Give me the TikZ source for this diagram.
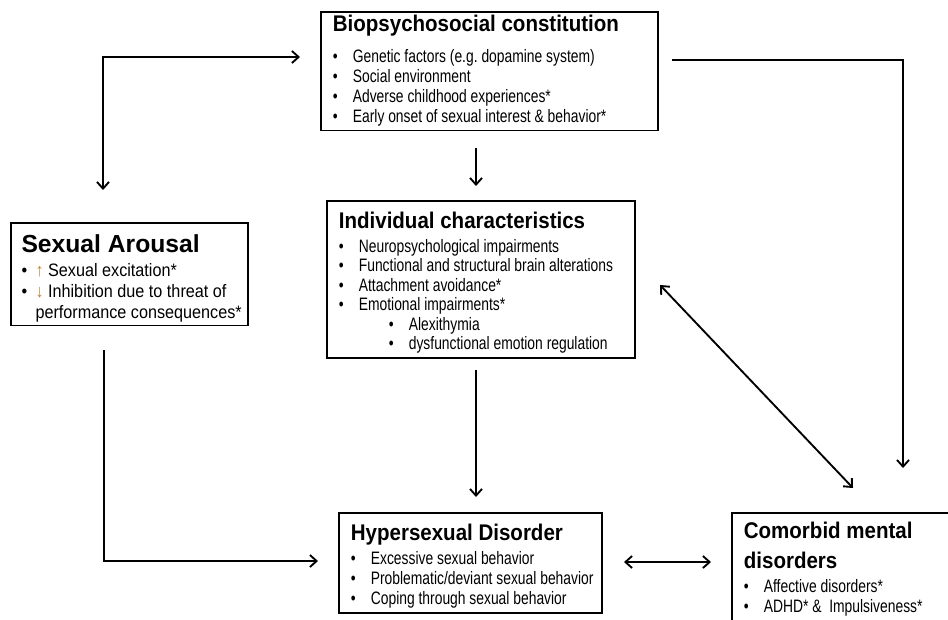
\documentclass[tikz,border=0pt]{standalone}
\usepackage{fontspec}
\usepackage{xcolor}
\usepackage{tikz}
\usetikzlibrary{calc,positioning,arrows.meta}
\newfontfamily\boxfont[FakeStretch=0.77]{Liberation Sans}
\newfontfamily\headfont[FakeStretch=0.905]{Liberation Sans}
\newfontfamily\widefont[FakeStretch=0.9]{Liberation Sans}
\newfontfamily\wideheadfont{Liberation Sans}
\definecolor{arrowtan}{RGB}{190,130,60}
\newcommand{\boxtitle}[1]{{\headfont\fontsize{17}{20}\selectfont\bfseries #1}}
\newcommand{\widetitle}[1]{{\wideheadfont\fontsize{18.5}{20}\selectfont\bfseries #1}}
\newcommand{\bul}[1][15pt]{\makebox[#1][l]{\textbullet}}
\newcommand{\toprow}[1]{\rule{0pt}{#1}}
\newcommand{\botrow}[1]{\rule[-#1]{0pt}{#1}}
\newcommand{\overhang}[1][9pt]{\rightskip=-#1 plus 1fil\spaceskip=0pt\xspaceskip=0pt\relax}
\hyphenpenalty=10000
\exhyphenpenalty=10000
\frenchspacing

\begin{document}
\begin{tikzpicture}[x=0.75pt,y=-0.75pt]
        \tikzset{>={Straight Barb[length=5pt,width=9pt]}}
        \tikzstyle{arr} = [line width=1.4pt]
        \tikzstyle{factor} = [draw, line width=1.3pt, anchor=north west, align=left, inner xsep=9pt, inner ysep=0pt, font={\boxfont\fontsize{13.5}{15}\selectfont}]
        \useasboundingbox (0,0) rectangle (948,619);
        \clip (0,0) rectangle (948,619);

        \node [factor, text width=234.75pt, name=bio] at (320,11) {\overhang\toprow{15pt}\boxtitle{Biopsychosocial constitution}\\[8pt]
            \bul Genetic factors (e.g. dopamine system)\\
            \bul Social environment\\
            \bul Adverse childhood experiences*\\
            \bul Early onset of sexual interest \& behavior*\botrow{6pt}};
        \node [factor, text width=213pt, name=indiv, font={\boxfont\fontsize{13.5}{14.6}\selectfont}] at (326,200) {\overhang\toprow{21pt}\boxtitle{Individual characteristics}\\[3pt]
            \bul Neuropsychological impairments\\
            \bul Functional and structural brain alterations\\
            \bul Attachment avoidance*\\
            \bul Emotional impairments*\\
            \hspace*{37.5pt}\bul Alexithymia\\
            \hspace*{37.5pt}\bul dysfunctional emotion regulation\botrow{6.5pt}};
        \node [factor, text width=161.75pt, name=arousal, inner xsep=8pt, font={\widefont\fontsize{13.5}{15.5}\selectfont}] at (10,222) {\overhang\toprow{22pt}\widetitle{Sexual Arousal}\\[3pt]
            \bul[10.5pt]{\color{arrowtan}↑} Sexual excitation*\\
            \bul[10.5pt]{\color{arrowtan}↓} \mbox{Inhibition due to threat of}\\
            \hspace*{10.5pt}\mbox{performance consequences*}\botrow{5.5pt}};
        \node [factor, text width=179.25pt, name=hyper] at (338,512) {\overhang\toprow{20.5pt}\boxtitle{Hypersexual Disorder}\\[3.5pt]
            \bul Excessive sexual behavior\\
            \bul Problematic/deviant sexual behavior\\
            \bul Coping through sexual behavior\botrow{6pt}};
        \node [factor, text width=177pt, name=comorb] at (731,512) {\overhang\toprow{19.5pt}\boxtitle{Comorbid mental}\\[7pt]
            \boxtitle{disorders}\\[3pt]
            \bul Affective disorders*\\
            \bul ADHD* \&\ \ Impulsiveness*\botrow{20pt}};

        % arrow ends
        \coordinate (arousalIn) at (103,190);
        \coordinate (bioIn) at (300,57);
        \coordinate (bioOut) at (476,148);
        \coordinate (indivIn) at (476,186);
        \coordinate (bioRight) at (672,60);
        \coordinate (comorbIn) at (903,468);
        \coordinate (indivSide) at (660,285);
        \coordinate (comorbSide) at (853,488);
        \coordinate (indivOut) at (476,370);
        \coordinate (hyperIn) at (476,497);
        \coordinate (arousalOut) at (104,350);
        \coordinate (hyperSide) at (318,561);
        \coordinate (hyperRight) at (624,562);
        \coordinate (comorbLeft) at (711,562);

        % arrows
        \draw [arr,<->] (arousalIn) |- (bioIn);
        \draw [arr,->] (bioOut) -- (indivIn);
        \draw [arr,->] (bioRight) -| (comorbIn);
        \draw [arr,<->] (indivSide) -- (comorbSide);
        \draw [arr,->] (indivOut) -- (hyperIn);
        \draw [arr,->] (arousalOut) |- (hyperSide);
        \draw [arr,<->] (hyperRight) -- (comorbLeft);
\end{tikzpicture}
\end{document}
